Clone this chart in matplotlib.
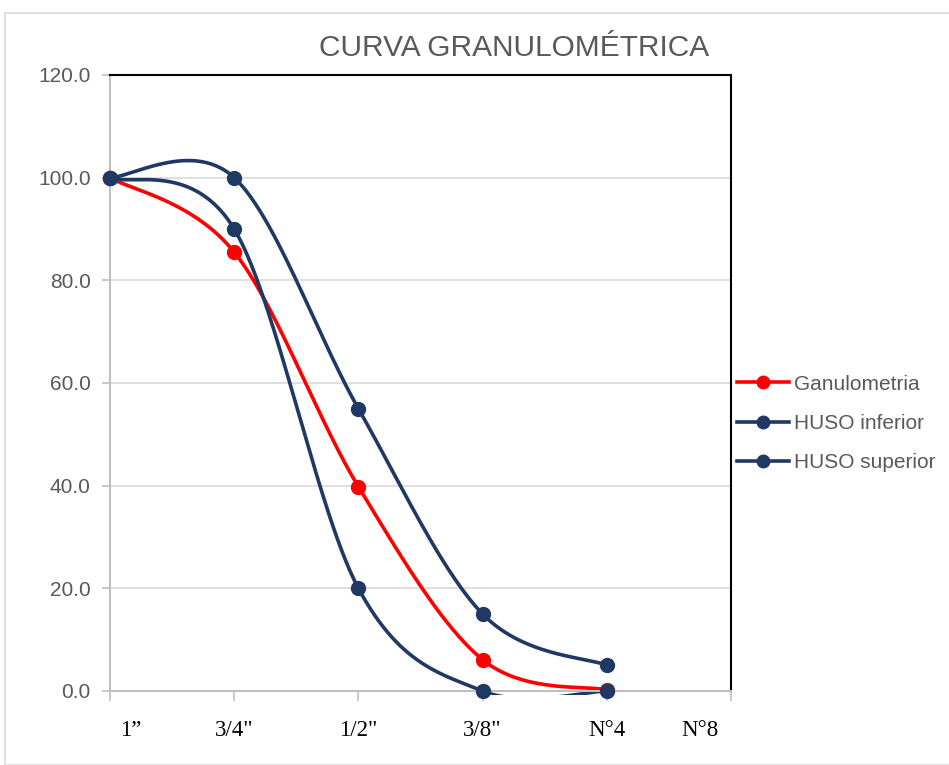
import numpy as np
import matplotlib; matplotlib.use("Agg"); import matplotlib.pyplot as plt
from matplotlib.lines import Line2D
from matplotlib.patches import Rectangle

# sieve categories and passing percentages
sieves = ["1\u201d", "3/4\"", "1/2\"", "3/8\"", "N\u00b04", "N\u00b08"]
ganulometria = [100.0, 85.5, 39.8, 6.1, 0.2]
huso_inferior = [100.0, 90.0, 20.0, 0.0, 0.0]
huso_superior = [100.0, 100.0, 55.0, 15.0, 5.0]
yticks = [0, 20, 40, 60, 80, 100, 120]

RED = "#FF0000"
NAVY = "#1F3864"
GRAY_TXT = "#595959"


def smooth(xs, ys, n=60):
    """Excel-like smoothed line: Catmull-Rom segments as cubic Beziers."""
    p = np.column_stack([xs, ys]).astype(float)
    p = np.vstack([p[0], p, p[-1]])
    out = []
    for i in range(1, len(p) - 2):
        p0, p1, p2, p3 = p[i - 1], p[i], p[i + 1], p[i + 2]
        c1 = p1 + (p2 - p0) / 6
        c2 = p2 - (p3 - p1) / 6
        t = np.linspace(0, 1, n)[:, None]
        seg = ((1 - t) ** 3 * p1 + 3 * (1 - t) ** 2 * t * c1
               + 3 * (1 - t) * t ** 2 * c2 + t ** 3 * p2)
        out.append(seg if i == 1 else seg[1:])
    s = np.vstack(out)
    return s[:, 0], s[:, 1]


fig = plt.figure(figsize=(9.49, 7.65), dpi=100)
fig.patches.append(Rectangle((5 / 949, 0), 1.0, 1 - 13 / 765, transform=fig.transFigure,
                             fill=False, ec="#D9D9D9", lw=1.2))
ax = fig.add_axes([110 / 949, 74 / 765, 621 / 949, 616 / 765])

# plot area clip, slightly taller at the bottom like Excel
clip = Rectangle((0, -0.006), 1, 1.006, transform=ax.transAxes, fill=False, visible=False)
ax.add_patch(clip)

x = np.arange(len(ganulometria))
for ys, c in [(ganulometria, RED), (huso_inferior, NAVY), (huso_superior, NAVY)]:
    sx, sy = smooth(x, ys)
    ln, = ax.plot(sx, sy, color=c, lw=2.6, zorder=3, solid_capstyle="round")
    ln.set_clip_path(clip)
    ax.plot(x, ys, "o", color=c, ms=10, clip_on=False, zorder=4)

ax.set_xlim(0, 5)
ax.set_ylim(0, 120)
ax.set_yticks(yticks)
ax.set_yticklabels([f"{v:.1f}" for v in yticks], color=GRAY_TXT,
                   fontsize=15, family="Liberation Sans")
ax.set_xticks(np.arange(len(sieves)))
ax.set_xticklabels([])
ax.tick_params(axis="x", length=7, color="#BFBFBF", width=1.2)
ax.tick_params(axis="y", length=6, color="#BFBFBF", width=1.2, pad=8)
ax.grid(axis="y", color="#D9D9D9", lw=1.2)
ax.set_axisbelow(True)
for s in ("top", "right"):
    ax.spines[s].set_color("black"); ax.spines[s].set_linewidth(1.5)
for s in ("left", "bottom"):
    ax.spines[s].set_color("#BFBFBF"); ax.spines[s].set_linewidth(1.5)
ax.spines["bottom"].set_zorder(3.5)

# category labels sit a bit off the ticks at the ends, as in the original
label_x = [0.17, 1, 2, 3, 4, 4.75]
for lx, lbl in zip(label_x, sieves):
    ax.text(lx, -7.6, lbl, ha="center", va="center", fontsize=16.5,
            family="Liberation Serif", color="black", clip_on=False)

fig.text(514 / 949, 1 - 48 / 765, "CURVA GRANULOM\u00c9TRICA", ha="center", va="center",
         fontsize=21.5, color=GRAY_TXT, family="Liberation Sans")

handles = [Line2D([], [], color=RED, lw=2.6, marker="o", ms=9),
           Line2D([], [], color=NAVY, lw=2.6, marker="o", ms=9),
           Line2D([], [], color=NAVY, lw=2.6, marker="o", ms=9)]
fig.legend(handles, ["Ganulometria", "HUSO inferior", "HUSO superior"],
           loc="upper left", bbox_to_anchor=(737 / 949, 1 - 374.5 / 765), frameon=False,
           prop={"family": "Liberation Sans", "size": 15}, labelcolor=GRAY_TXT,
           handlelength=2.5, handletextpad=0.25, labelspacing=0.98,
           borderaxespad=0, borderpad=0)

fig.savefig("out.png", dpi=100)
